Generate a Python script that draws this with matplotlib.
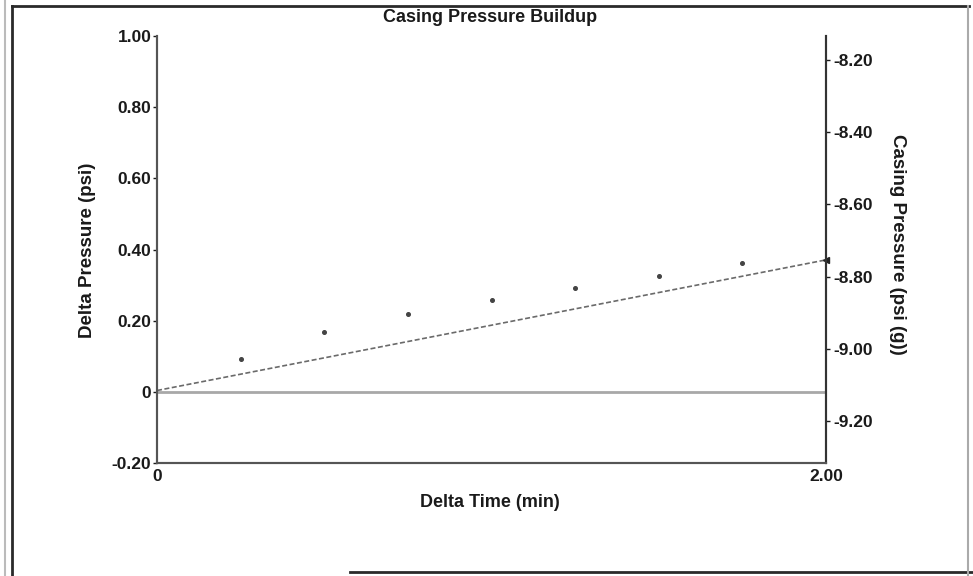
import matplotlib.pyplot as plt
from matplotlib.lines import Line2D

plt.rcParams['font.family'] = ['Liberation Sans', 'DejaVu Sans']
plt.rcParams['font.weight'] = 'bold'

# datos
delta_time = [0.25, 0.50, 0.75, 1.00, 1.25, 1.50, 1.75]
delta_pressure = [0.093, 0.169, 0.219, 0.258, 0.293, 0.326, 0.363]
trend_x = [0.0, 2.0]
trend_y = [0.004, 0.371]

y_ticks = [-0.20, 0, 0.20, 0.40, 0.60, 0.80, 1.00]
y_tick_labels = ['-0.20', '0', '0.20', '0.40', '0.60', '0.80', '1.00']
y2_ticks = [-9.20, -9.00, -8.80, -8.60, -8.40, -8.20]
y2_tick_labels = ['-9.20', '-9.00', '-8.80', '-8.60', '-8.40', '-8.20']
x_ticks = [0, 2.0]
x_tick_labels = ['0', '2.00']

fig = plt.figure(figsize=(9.73, 5.76), dpi=100)
ax = fig.add_axes([0.1614, 0.196, 0.6876, 0.7415])

ax.axhline(0, color='#a8a8a8', lw=2, zorder=1)
ax.plot(trend_x, trend_y, color='#6a6a6a', lw=1.2, ls=(0, (3, 1.5)), zorder=2)
ax.plot(delta_time, delta_pressure, ls='none', marker='o', ms=2.6,
        color='#444444', zorder=3)
ax.plot(trend_x[-1:], trend_y[-1:], ls='none', marker='<', ms=5,
        color='#222222', clip_on=False, zorder=3)

ax.set_xlim(0, 2.0)
ax.set_ylim(-0.20, 1.00)
ax.set_yticks(y_ticks)
ax.set_yticklabels(y_tick_labels)
ax.set_xticks(x_ticks)
ax.set_xticklabels(x_tick_labels)
ax.tick_params(axis='y', length=3, width=1, pad=1, labelsize=12.5, colors='#1a1a1a')
ax.tick_params(axis='x', length=0, pad=4, labelsize=12.5, colors='#1a1a1a')

ax2 = ax.twinx()
ax2.set_ylim(-9.316, -8.134)
ax2.set_yticks(y2_ticks)
ax2.set_yticklabels(y2_tick_labels)
ax2.tick_params(axis='y', length=3, width=1, pad=2, labelsize=12.5, colors='#1a1a1a')

for a in (ax, ax2):
    a.spines['top'].set_visible(False)
    a.spines['left'].set_color('#555555')
    a.spines['right'].set_color('#333333')
    a.spines['bottom'].set_color('#555555')
    for s in ('left', 'right', 'bottom'):
        a.spines[s].set_linewidth(1.5)

fig.text(0.5036, 0.969, 'Casing Pressure Buildup', ha='center', va='center',
         fontsize=13, fontweight='bold', color='#1a1a1a')
fig.text(0.5036, 0.127, 'Delta Time (min)', ha='center', va='center',
         fontsize=13, fontweight='bold', color='#1a1a1a')
fig.text(0.0904, 0.566, 'Delta Pressure (psi)', ha='center', va='center',
         rotation=90, fontsize=13.5, fontweight='bold', color='#1a1a1a')
fig.text(0.922, 0.575, 'Casing Pressure (psi (g))', ha='center', va='center',
         rotation=270, fontsize=13.5, fontweight='bold', color='#1a1a1a')

# marco exterior
borde = dict(transform=fig.transFigure, color='#2a2a2a', lw=2)
fig.add_artist(Line2D([0.0123, 0.0123], [0.0, 0.9896], **borde))
fig.add_artist(Line2D([0.0123, 0.996], [0.9896, 0.9896], **borde))
fig.add_artist(Line2D([0.36, 1.0], [0.007, 0.007], **borde))
fig.add_artist(Line2D([0.995, 0.995], [0.0, 0.9896], transform=fig.transFigure,
                      color='#aaaaaa', lw=1.5))
fig.add_artist(Line2D([0.005, 0.005], [0.0, 1.0], transform=fig.transFigure,
                      color='#bbbbbb', lw=1.5))

fig.savefig('out.png', dpi=100)
